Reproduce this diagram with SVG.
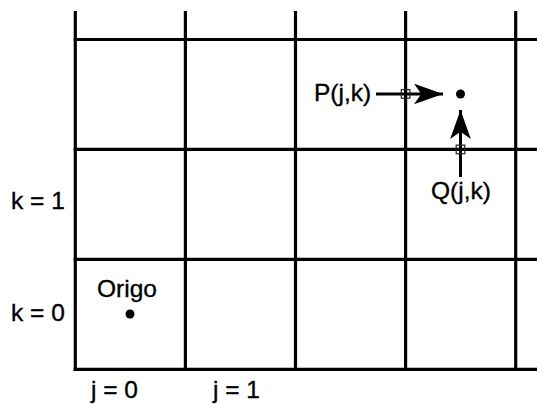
<svg xmlns="http://www.w3.org/2000/svg" width="537" height="404" viewBox="0 0 537 404">
<style>
.grid line{stroke:#000;stroke-width:3.2}
text{font-family:"Liberation Sans",Arial,sans-serif;font-size:24.5px;fill:#000;stroke:#000;stroke-width:0.35}
.conn{stroke:#000;stroke-width:3;fill:none}
.mk{fill:none;stroke:#222;stroke-width:1.2}
</style>
<defs>
<marker id="ah" viewBox="0 0 28 20" refX="28" refY="10" markerWidth="29" markerHeight="21" markerUnits="userSpaceOnUse" orient="auto">
<path d="M0,0 L28,10 L0,20 L7,10 Z" fill="#000"/>
</marker>
</defs>
<rect width="537" height="404" fill="#fff"/>
<g id="grid" class="grid">
<line x1="75.3" y1="11" x2="75.3" y2="371"/>
<line x1="185.4" y1="11" x2="185.4" y2="371"/>
<line x1="295.5" y1="11" x2="295.5" y2="371"/>
<line x1="405.6" y1="11" x2="405.6" y2="371"/>
<line x1="515.7" y1="11" x2="515.7" y2="371"/>
<line x1="73.7" y1="39.5" x2="537" y2="39.5"/>
<line x1="73.7" y1="149.4" x2="537" y2="149.4"/>
<line x1="73.7" y1="259.3" x2="537" y2="259.3"/>
<line x1="73.7" y1="369.3" x2="537" y2="369.3"/>
</g>
<g id="labels">
<text x="11" y="209">k = 1</text>
<text x="11" y="321">k = 0</text>
<text x="91" y="398">j = 0</text>
<text x="213" y="398">j = 1</text>
</g>
<g id="origo">
<text x="97" y="297">Origo</text>
<circle cx="130" cy="314" r="4.5" fill="#000"/>
</g>
<g id="point">
<circle cx="460.5" cy="94" r="4.5" fill="#000"/>
</g>
<g id="P">
<text x="314" y="101">P(j,k)</text>
</g>
<g id="Q">
<text x="431" y="199">Q(j,k)</text>
</g>
<g id="connectors">
<line class="conn" x1="376" y1="94" x2="443" y2="94" marker-end="url(#ah)"/>
<line class="conn" x1="460.5" y1="177" x2="460.5" y2="110" marker-end="url(#ah)"/>
<rect class="mk" x="401.3" y="89.6" width="8.6" height="8.6"/>
<rect class="mk" x="456.2" y="145.1" width="8.6" height="8.6"/>
</g>
</svg>
